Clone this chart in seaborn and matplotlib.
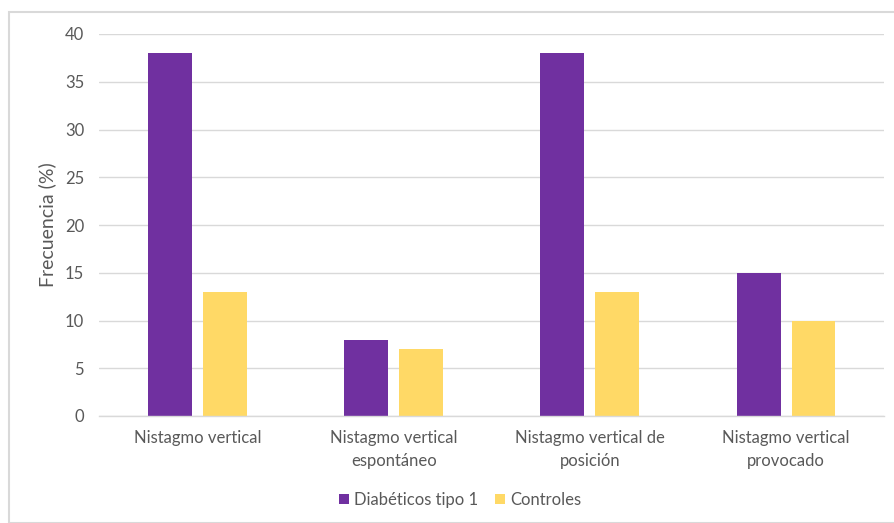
import matplotlib
matplotlib.use("Agg")
import matplotlib.pyplot as plt
from matplotlib.patches import Rectangle, Patch
import seaborn as sns
import pandas as pd

categorias = ["Nistagmo vertical", "Nistagmo vertical\nespontáneo",
              "Nistagmo vertical de\nposición", "Nistagmo vertical\nprovocado"]
diabeticos = [38, 8, 38, 15]
controles = [13, 7, 13, 10]
series = ["Diabéticos tipo 1", "Controles"]
colores = ["#7030A0", "#FFD966"]
yticks = [0, 5, 10, 15, 20, 25, 30, 35, 40]

df = pd.DataFrame({
    "categoria": categorias * 2,
    "serie": [series[0]] * 4 + [series[1]] * 4,
    "valor": diabeticos + controles,
})

sns.set_theme(style="white")
plt.rcParams["font.family"] = ["Lato", "DejaVu Sans"]
texto = "#595959"

fig = plt.figure(figsize=(8.95, 5.23), dpi=100)
ax = fig.add_axes([99.4 / 895, 1 - 416 / 523, 784.7 / 895, (416 - 34) / 523])

sns.barplot(data=df, x="categoria", y="valor", hue="serie", order=categorias,
            hue_order=series, palette=colores, width=0.56, gap=0.2,
            saturation=1, ax=ax, legend=False, linewidth=0)

ax.set_ylim(0, 40)
ax.set_xlim(-0.5, 3.5)
ax.set_yticks(yticks)
ax.set_yticklabels([str(v) for v in yticks])
ax.yaxis.grid(True, color="#D9D9D9", linewidth=1)
ax.set_axisbelow(True)
for s in ["top", "right", "left"]:
    ax.spines[s].set_visible(False)
ax.spines["bottom"].set_color("#D9D9D9")
ax.spines["bottom"].set_linewidth(1)
ax.tick_params(axis="both", length=0, colors=texto, labelsize=12)
ax.tick_params(axis="y", pad=11)
ax.tick_params(axis="x", pad=10)
for lbl in ax.get_xticklabels():
    lbl.set_linespacing(1.55)
ax.set_xlabel("")
ax.set_ylabel("Frecuencia (%)", color=texto, fontsize=14, labelpad=6)

handles = [Patch(facecolor=c, edgecolor="none") for c in colores]
fig.legend(handles, series, loc="center", bbox_to_anchor=(460 / 895, 1 - 500 / 523),
           ncol=2, frameon=False, fontsize=12, labelcolor=texto,
           handlelength=0.6, handleheight=0.6, handletextpad=0.3, columnspacing=1.0)

fig.patches.append(Rectangle((8.5 / 895, 0), 2, 1 - 11.5 / 523, transform=fig.transFigure,
                             fill=False, edgecolor="#D9D9D9", linewidth=1.5))

fig.savefig("out.png", dpi=100, facecolor="white")
